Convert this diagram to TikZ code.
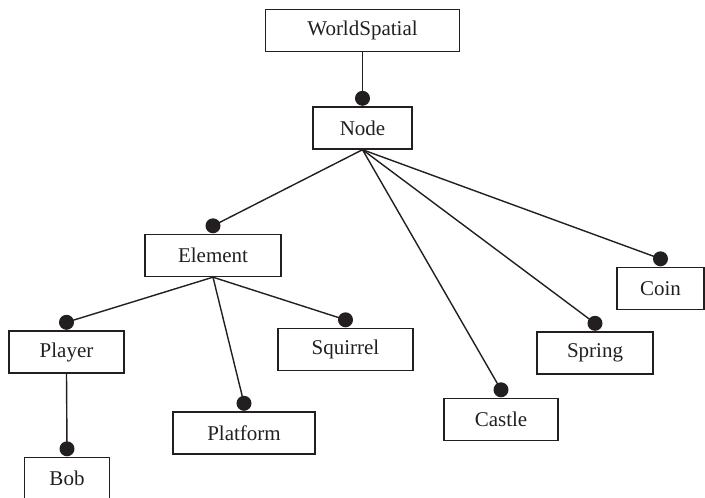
\documentclass[tikz,border=0pt]{standalone}
\usepackage{fontspec}
\setmainfont{Liberation Serif}
\usetikzlibrary{positioning}
\definecolor{ink}{HTML}{231F20}
\begin{document}
\begin{tikzpicture}[x=1pt,y=-1pt,
  box/.style={draw=ink, line width=1.4pt, text=ink, minimum height=42pt,
    inner sep=0pt, font=\fontsize{21}{25}\selectfont},
  dot/.style={circle, fill=ink, inner sep=0pt, minimum size=15pt},
  link/.style={draw=ink, line width=1.4pt}]
\useasboundingbox (0,0) rectangle (705,498);

% class boxes
\node[box, minimum width=194pt] (ws)   at (362.5,30.5) {WorldSpatial};
\node[box, minimum width=99pt]  (nd)   at (362.5,128)  {Node};
\node[box, minimum width=136pt] (el)   at (213,255.5)  {Element};
\node[box, minimum width=115pt] (pl)   at (66.5,352)   {Player};
\node[box, minimum width=85pt]  (bob)  at (67,478.5)   {Bob};
\node[box, minimum width=142pt] (pf)   at (244,433)    {Platform};
\node[box, minimum width=135pt] (sq)   at (345.5,349.5){Squirrel};
\node[box, minimum width=114pt] (ca)   at (501,419.5)  {Castle};
\node[box, minimum width=116pt] (sp)   at (595,353)    {Spring};
\node[box, minimum width=87pt]  (co)   at (660.5,288.5){Coin};

% connection dots on top of each child box
\foreach \n in {nd,el,pl,bob,pf,sq,ca,sp,co}
  \coordinate (\n-d) at ([yshift=8pt]\n.north);

% connectors from parent to child dots
\draw[link] (ws.south) -- (nd-d);
\foreach \n in {el,ca,sp,co}
  \draw[link] (nd.south) -- (\n-d);
\foreach \n in {pl,pf,sq}
  \draw[link] (el.south) -- (\n-d);
\draw[link] (pl.south) -- (bob-d);

\foreach \n in {nd,el,pl,bob,pf,sq,ca,sp,co}
  \node[dot] at (\n-d) {};
\end{tikzpicture}
\end{document}
